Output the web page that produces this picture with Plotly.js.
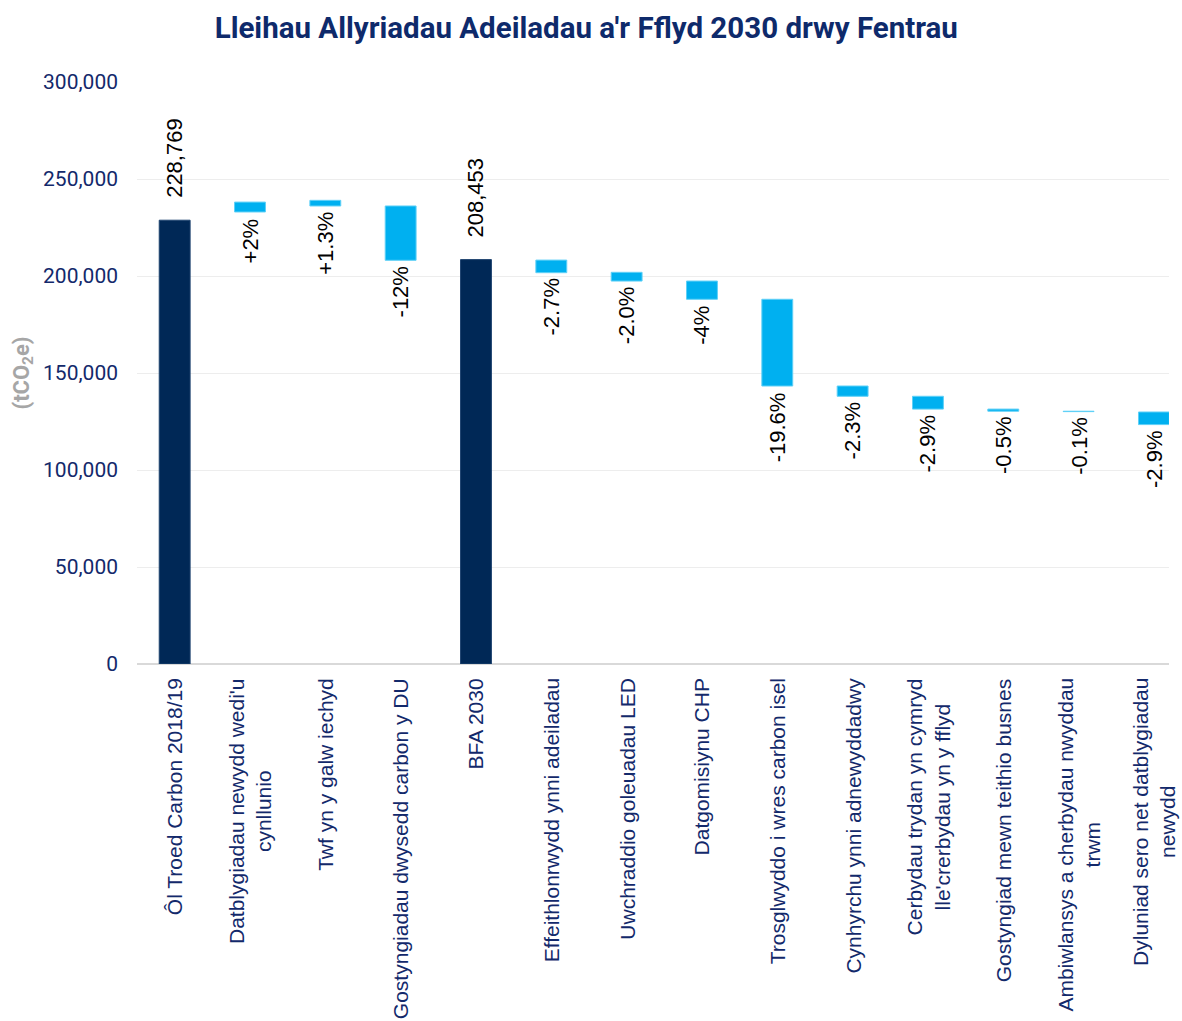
<!DOCTYPE html>
<html>
<head>
<meta charset="utf-8">
<script src="https://cdn.plot.ly/plotly-3.0.1.min.js"></script>
<style>html,body{margin:0;padding:0;background:#fff;}#chart{width:1182px;height:1021px;}</style>
</head>
<body>
<div id="chart"></div>
<script>
// ---- data ----
const categories = [
  "Ôl Troed Carbon 2018/19",
  "Datblygiadau newydd wedi'u<br>cynllunio",
  "Twf yn y galw iechyd",
  "Gostyngiadau dwysedd carbon y DU",
  "BFA 2030",
  "Effeithlonrwydd ynni adeiladau",
  "Uwchraddio goleuadau LED",
  "Datgomisiynu CHP",
  "Trosglwyddo i wres carbon isel",
  "Cynhyrchu ynni adnewyddadwy",
  "Cerbydau trydan yn cymryd<br>lle'crerbydau yn y fflyd",
  "Gostyngiad mewn teithio busnes",
  "Ambiwlansys a cherbydau nwyddau<br>trwm",
  "Dyluniad sero net datblygiadau<br>newydd"
];
const totalIdx = [0, 4];
const totalValues = [228769, 208453];
const totalLabels = ["228,769", "208,453"];
const stepIdx = [1, 2, 3, 5, 6, 7, 8, 9, 10, 11, 12, 13];
const stepTop = [238100, 239000, 236100, 208200, 201900, 197400, 188000, 143300, 138000, 131400, 130300, 129900];
const stepBottom = [233000, 236100, 208100, 201700, 197400, 188000, 143300, 138000, 131400, 130300, 130100, 123400];
const stepLabels = ["+2%", "+1.3%", "-12%", "-2.7%", "-2.0%", "-4%", "-19.6%", "-2.3%", "-2.9%", "-0.5%", "-0.1%", "-2.9%"];
const yTickVals = [0, 50000, 100000, 150000, 200000, 250000, 300000];

// ---- styling ----
const NAVY = "#002856";
const BLUE = "#00B0F0";
const TXT = "#13296B";

const keys = categories.map((c, i) => "c" + i);

const totals = {
  type: "bar",
  x: totalIdx.map(i => keys[i]),
  y: totalValues,
  width: 0.41,
  marker: {color: NAVY, line: {color: "#1F4470", width: 1}},
  hoverinfo: "skip",
  showlegend: false
};
const steps = {
  type: "bar",
  x: stepIdx.map(i => keys[i]),
  base: stepTop,
  y: stepTop.map((t, k) => stepBottom[k] - t),
  width: 0.41,
  marker: {color: BLUE, line: {color: "#5FD0F7", width: 1}},
  hoverinfo: "skip",
  showlegend: false
};

const valueFont = {family: "Liberation Sans, Arial, sans-serif", size: 22, color: "#000"};
const annotations = [];
totalIdx.forEach((i, k) => {
  annotations.push({
    x: keys[i], y: totalValues[k], xref: "x", yref: "y",
    text: totalLabels[k], textangle: -90, showarrow: false,
    xanchor: "center", yanchor: "bottom", yshift: 20,
    font: valueFont
  });
});
stepIdx.forEach((i, k) => {
  annotations.push({
    x: keys[i], y: stepBottom[k], xref: "x", yref: "y",
    text: stepLabels[k], textangle: -90, showarrow: false,
    xanchor: "center", yanchor: "top", yshift: -4,
    font: valueFont
  });
});
categories.forEach((c, i) => {
  annotations.push({
    x: keys[i], y: 0, xref: "x", yref: "paper",
    text: c, textangle: -90, showarrow: false, align: "center",
    xanchor: "center", yanchor: "top", yshift: -12,
    font: {family: "Liberation Sans, Arial, sans-serif", size: 21, color: TXT}
  });
});

const layout = {
  width: 1182, height: 1021,
  margin: {l: 137, r: 13, t: 82, b: 357},
  paper_bgcolor: "#fff", plot_bgcolor: "#fff",
  title: {
    text: "<b>Lleihau Allyriadau Adeiladau a'r Fflyd 2030 drwy Fentrau</b>",
    x: 0.496, xref: "container", xanchor: "center",
    y: 1 - 28 / 1021, yref: "container", yanchor: "middle",
    font: {family: "Roboto, sans-serif", size: 29.5, color: "#0E2A6B"}
  },
  barmode: "overlay",
  xaxis: {
    type: "category", categoryorder: "array", categoryarray: keys,
    range: [-0.5, 13.2], showticklabels: false, showgrid: false,
    zeroline: false, showline: false, ticks: ""
  },
  yaxis: {
    range: [0, 300000], tickvals: yTickVals, tickformat: ",d",
    showgrid: true, gridcolor: "#EDEDED", gridwidth: 1,
    zeroline: true, zerolinecolor: "#D9D9D9", zerolinewidth: 2,
    showline: false, ticks: "", ticklabelstandoff: 18,
    tickfont: {family: "Roboto, sans-serif", size: 21, color: TXT},
    title: {
      text: "<b>(tCO<sub>2</sub>e)</b>", standoff: 7,
      font: {family: "Roboto, sans-serif", size: 22, color: "#A6A6A6"}
    }
  },
  annotations: annotations
};

Plotly.newPlot("chart", [totals, steps], layout, {displayModeBar: false, staticPlot: true});
</script>
</body>
</html>
